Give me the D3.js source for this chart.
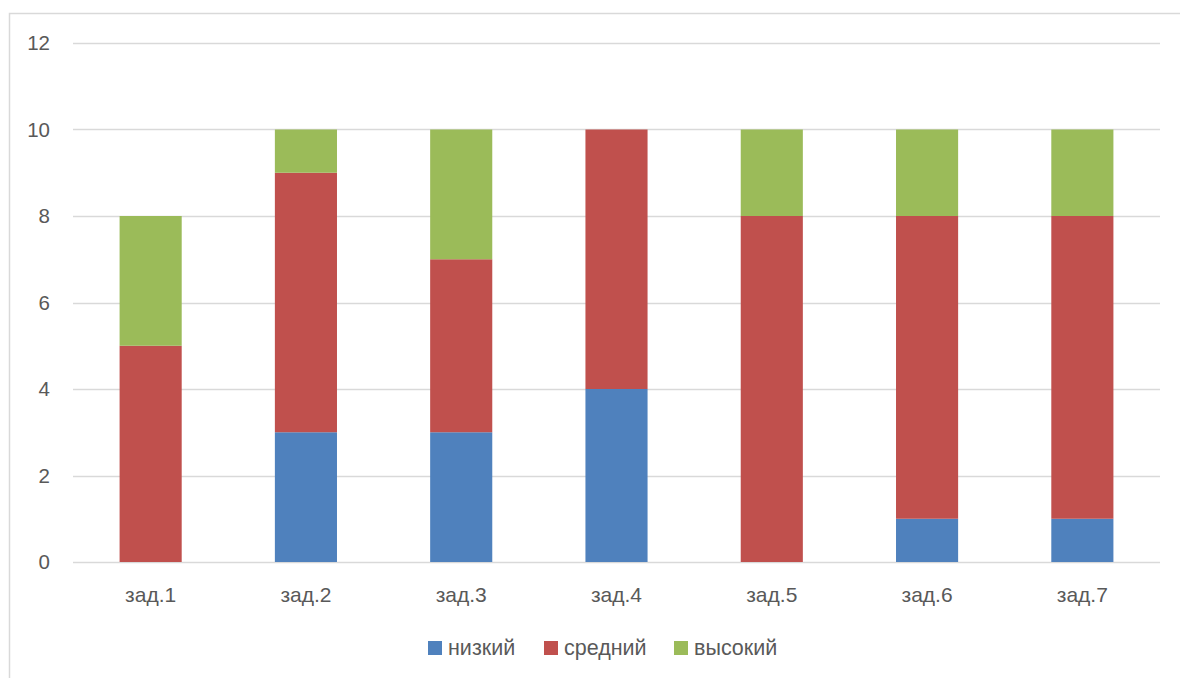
<!DOCTYPE html>
<html>
<head>
<meta charset="utf-8">
<script src="https://cdn.jsdelivr.net/npm/d3@7"></script>
<style>
  body { margin: 0; background: #fff; }
  text { font-family: "Liberation Sans", Arial, sans-serif; fill: #595959; }
</style>
</head>
<body>
<div id="chart"></div>
<script>
// Width and height
var chart_width  = 1180;
var chart_height = 678;

// data
var categories = ["зад.1", "зад.2", "зад.3", "зад.4", "зад.5", "зад.6", "зад.7"];
var series     = ["низкий", "средний", "высокий"];
var low        = [0, 3, 3, 4, 0, 1, 1];
var mid        = [5, 6, 4, 6, 8, 7, 7];
var high       = [3, 1, 3, 0, 2, 2, 2];
var y_ticks    = [0, 2, 4, 6, 8, 10, 12];
var colors     = ["#4f81bd", "#c0504d", "#9bbb59"];

var rows = categories.map(function(c, i){
  return {cat: c, "низкий": low[i], "средний": mid[i], "высокий": high[i]};
});

var svg = d3.select("#chart")
  .append("svg")
  .attr("width", chart_width)
  .attr("height", chart_height);

// outer frame
svg.append("rect")
  .attr("x", 9.5).attr("y", 13.5)
  .attr("width", 1200).attr("height", 700)
  .attr("fill", "none")
  .attr("stroke", "#d9d9d9")
  .attr("stroke-width", 1.5);

var x = d3.scaleBand()
  .domain(categories)
  .range([73, 1160]);

var y = d3.scaleLinear()
  .domain([0, 12])
  .range([562, 43]);

// gridlines
svg.selectAll(".grid")
  .data(y_ticks)
  .enter()
  .append("line")
  .attr("x1", 73).attr("x2", 1160)
  .attr("y1", function(d){ return Math.round(y(d)) + 0.5; })
  .attr("y2", function(d){ return Math.round(y(d)) + 0.5; })
  .attr("stroke", "#d9d9d9")
  .attr("stroke-width", 1.3);

// y labels
svg.selectAll(".ylab")
  .data(y_ticks)
  .enter()
  .append("text")
  .attr("x", 50)
  .attr("y", function(d){ return y(d); })
  .attr("dy", "0.36em")
  .attr("text-anchor", "end")
  .style("font-size", "20.5px")
  .text(function(d){ return d; });

// stacked bars
var stack = d3.stack().keys(series);
var bar_w = x.bandwidth() * 0.4;

svg.selectAll(".layer")
  .data(stack(rows))
  .enter()
  .append("g")
  .attr("fill", function(d, i){ return colors[i]; })
  .selectAll("rect")
  .data(function(d){ return d; })
  .enter()
  .append("rect")
  .attr("x", function(d){ return x(d.data.cat) + (x.bandwidth() - bar_w) / 2; })
  .attr("width", bar_w)
  .attr("y", function(d){ return y(d[1]); })
  .attr("height", function(d){ return y(d[0]) - y(d[1]); });

// x labels
svg.selectAll(".xlab")
  .data(categories)
  .enter()
  .append("text")
  .attr("x", function(d){ return x(d) + x.bandwidth() / 2; })
  .attr("y", 602)
  .attr("text-anchor", "middle")
  .style("font-size", "21px")
  .text(function(d){ return d; });

// legend
var legend_x = [428, 544, 674];
var lg = svg.selectAll(".legend")
  .data(series)
  .enter()
  .append("g")
  .attr("transform", function(d, i){ return "translate(" + legend_x[i] + ",641)"; });

lg.append("rect")
  .attr("width", 14).attr("height", 14)
  .attr("fill", function(d, i){ return colors[i]; });

lg.append("text")
  .attr("x", 20)
  .attr("y", 14)
  .style("font-size", "21.5px")
  .text(function(d){ return d; });
</script>
</body>
</html>
